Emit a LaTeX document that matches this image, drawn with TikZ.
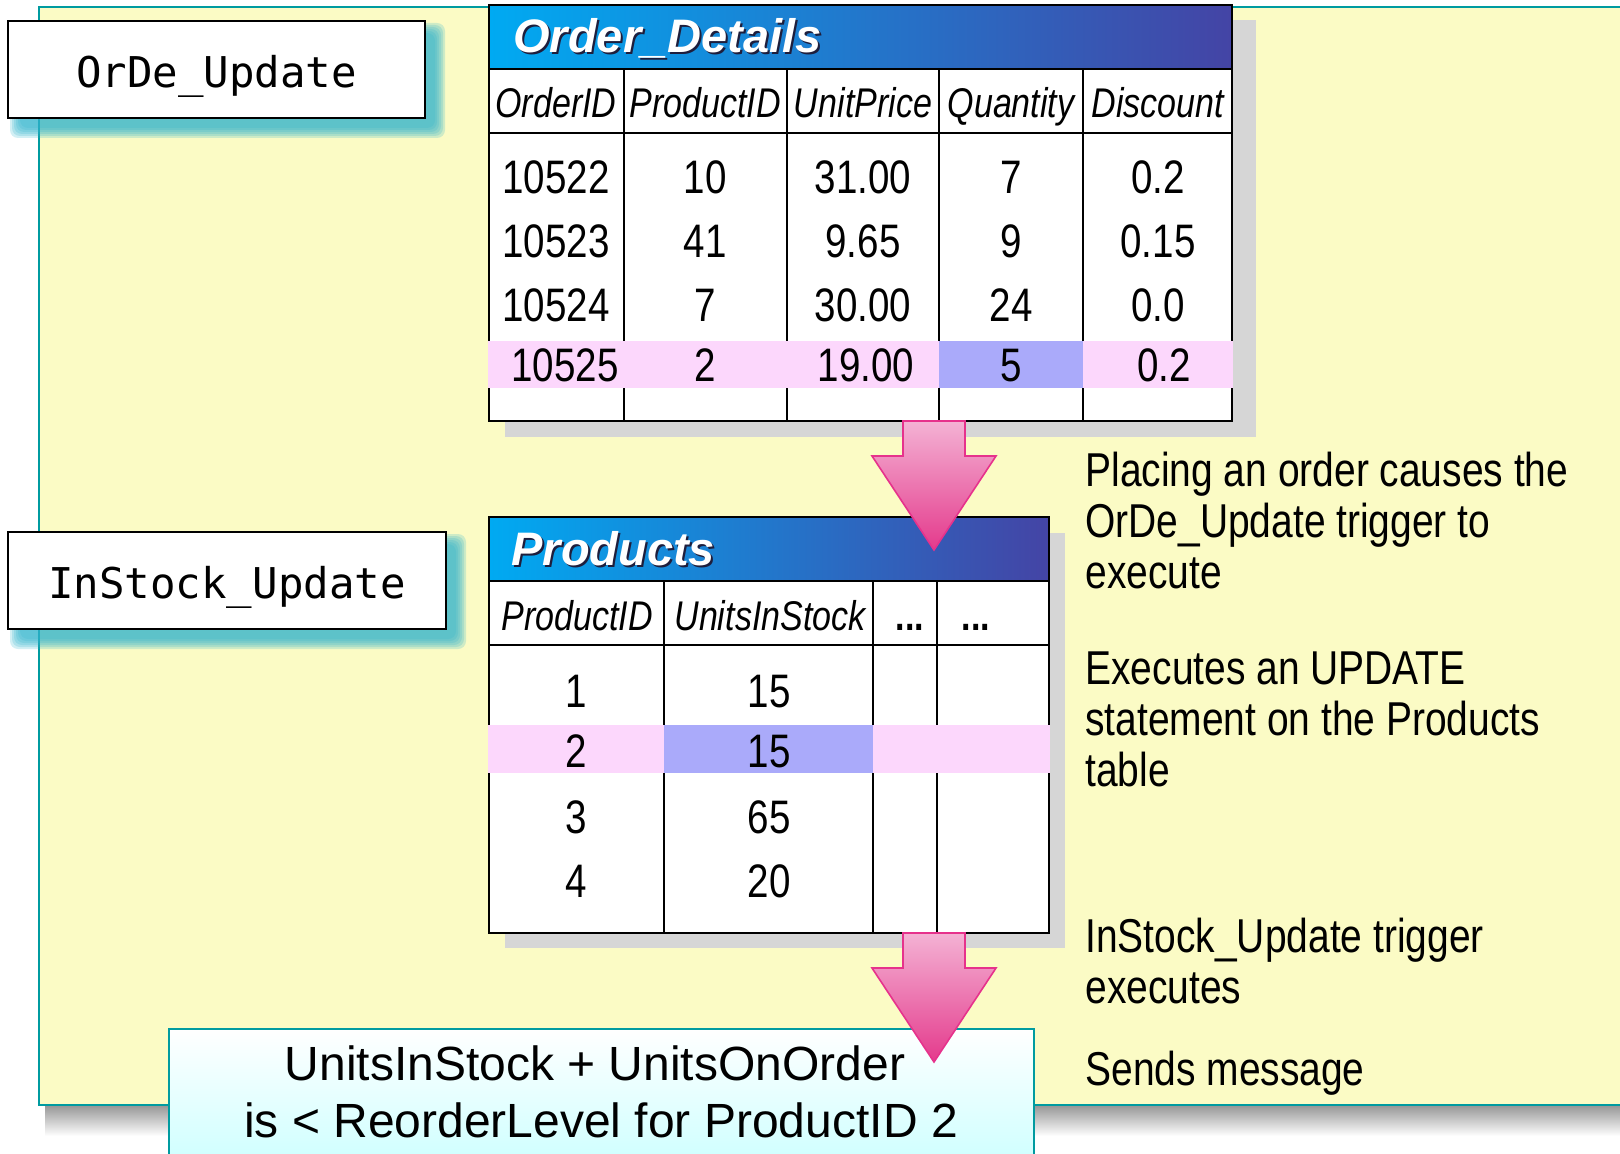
\documentclass[tikz,border=0pt]{standalone}
\usepackage{fontspec}
\setmainfont{Liberation Sans}
\setmonofont{DejaVu Sans Mono}
\newfontfamily\narrowfont[FakeStretch=0.82]{Liberation Sans}
\usetikzlibrary{calc}
\definecolor{bgyellow}{RGB}{251,251,197}
\definecolor{panelline}{RGB}{0,155,160}
\definecolor{glowteal}{RGB}{50,180,205}
\definecolor{tblshadow}{RGB}{214,214,214}
\definecolor{titleL}{RGB}{0,170,242}
\definecolor{titleR}{RGB}{68,68,165}
\definecolor{titleshade}{RGB}{30,30,60}
\definecolor{pinkrow}{RGB}{252,215,252}
\definecolor{bluecell}{RGB}{170,170,250}
\definecolor{arrowtop}{RGB}{244,178,212}
\definecolor{arrowbot}{RGB}{228,58,140}
\definecolor{arrowline}{RGB}{230,50,140}
\definecolor{msgcyan}{RGB}{200,255,255}

\begin{document}
\begin{tikzpicture}[x=0.5pt,y=-0.5pt,
  tline/.style={line width=1pt},
  cell/.style={font=\narrowfont\fontsize{23.5}{26}\selectfont, anchor=base, inner sep=0pt},
  head/.style={font=\narrowfont\itshape\fontsize{20.75}{24}\selectfont, anchor=base, inner sep=0pt},
  note/.style={font=\narrowfont\fontsize{23.75}{26}\selectfont, anchor=base west, inner sep=0pt},
  tname/.style={font=\bfseries\itshape\fontsize{23.5}{26}\selectfont, anchor=base west, inner sep=0pt},
  msgline/.style={font=\fontsize{24}{26}\selectfont, anchor=base, inner sep=0pt},
  trigbox/.style={draw, tline, fill=white, font=\ttfamily\fontsize{21.2}{24}\selectfont, text height=18pt, text depth=0pt, inner sep=0pt, minimum height=48.5pt},
  blockarrow/.style={top color=arrowtop, bottom color=arrowbot, draw=arrowline, line width=0.8pt, line join=miter}]
\useasboundingbox (0,0) rectangle (1620,1154);

% panel and its shadow
\shade[top color=black!40, bottom color=white] (45,1106) rectangle (1640,1136);
\draw[panelline, line width=1pt, fill=bgyellow] (39,7) rectangle (1650,1105);

% trigger boxes with glow
\foreach \r in {10,8,6,4,2,0} { \fill[glowteal, opacity=0.22, rounded corners=4pt] (20-\r,33-\r) rectangle (435+\r,128+\r); \fill[glowteal, opacity=0.22, rounded corners=4pt] (20-\r,544-\r) rectangle (456+\r,639+\r); };
\node[trigbox, minimum width=208.5pt] (orde) at (216.5,69.5) {OrDe\_Update};
\node[trigbox, minimum width=219pt] (instock) at (227,580.5) {InStock\_Update};

% Order_Details table
\fill[tblshadow] (505,20) rectangle (1256,437);
\draw[tline, fill=white] (489,69) rectangle (1232,421);
\shade[left color=titleL, right color=titleR] (489,5) rectangle (1232,69);
\draw[tline] (489,5) rectangle (1232,421); \draw[tline] (489,69) -- (1232,69); \draw[tline] (489,133) -- (1232,133);
\foreach \x in {624,787,939,1083} { \draw[tline] (\x,69) -- (\x,421); };
\fill[pinkrow] (488,341) rectangle (1233,388); \fill[bluecell] (939,341) rectangle (1083,388);
\node[tname, text=titleshade] (odtitle-s) at (515,55) {Order\_Details};
\node[tname, text=white] (odtitle) at (513,53) {Order\_Details};
\foreach \x/\t in {556/OrderID, 705/ProductID, 863/UnitPrice, 1011/Quantity, 1158/Discount} { \node[head] (odh-\t) at (\x,118) {\t}; };
\foreach \r/\yy/\s/\a/\b/\c/\d/\e in {1/194/0/10522/10/31.00/7/0.2, 2/258/0/10523/41/9.65/9/0.15, 3/322/0/10524/7/30.00/24/0.0, 4/382/1/10525/2/19.00/5/0.2} {
  \node[cell] (od\r a) at (556+9*\s,\yy) {\a}; \node[cell] (od\r b) at (705,\yy) {\b}; \node[cell] (od\r c) at (863+3*\s,\yy) {\c};
  \node[cell] (od\r d) at (1011,\yy) {\d}; \node[cell] (od\r e) at (1158+6*\s,\yy) {\e}; };
\coordinate (odfoot) at (934,421);

% Products table
\fill[tblshadow] (505,533) rectangle (1065,948);
\draw[tline, fill=white] (489,581) rectangle (1049,933);
\shade[left color=titleL, right color=titleR] (489,517) rectangle (1049,581);
\draw[tline] (489,517) rectangle (1049,933); \draw[tline] (489,581) -- (1049,581); \draw[tline] (489,645) -- (1049,645);
\foreach \x in {664,873,937} { \draw[tline] (\x,581) -- (\x,933); };
\fill[pinkrow] (488,725) rectangle (1050,773); \fill[bluecell] (664,725) rectangle (873,773);
\node[tname, text=titleshade] (prtitle-s) at (513,567) {Products};
\node[tname, text=white] (prtitle) at (511,565) {Products};
\node[head] (prh-id) at (577,630) {ProductID}; \node[head] (prh-stock) at (770,630) {UnitsInStock};
\node[head, font=\narrowfont\bfseries\fontsize{20.75}{24}\selectfont] (prh-more1) at (910,630) {...};
\node[head, font=\narrowfont\bfseries\fontsize{20.75}{24}\selectfont] (prh-more2) at (976,630) {...};
\foreach \r/\yy/\a/\b in {1/707/1/15, 2/767/2/15, 3/833/3/65, 4/897/4/20} { \node[cell] (pr\r a) at (576,\yy) {\a}; \node[cell] (pr\r b) at (769,\yy) {\b}; };
\coordinate (prfoot) at (934,933);

% notes on the right
\foreach \yy/\txt [count=\i] in {487/Placing an order causes the, 537/OrDe\_Update trigger to, 588/execute, 684/Executes an UPDATE, 735/statement on the Products, 786/table, 952/InStock\_Update trigger, 1003/executes, 1085/Sends message} { \node[note] (note\i) at (1085,\yy) {\txt}; };

% message box
\shade[top color=white, bottom color=msgcyan] (169,1029) rectangle (1034,1180);
\draw[panelline, line width=1pt] (169,1180) -- (169,1029) -- (1034,1029) -- (1034,1180);
\node[msgline] (msg1) at (595,1080) {UnitsInStock + UnitsOnOrder};
\node[msgline] (msg2) at (601,1137) {is < ReorderLevel for ProductID 2};

% block arrows
\draw[blockarrow] (odfoot) ++(-31,0) -- ++(0,35) -- ++(-31,0) -- ++(62,94) -- ++(62,-94) -- ++(-31,0) -- ++(0,-35) -- cycle;
\draw[blockarrow] (prfoot) ++(-31,0) -- ++(0,35) -- ++(-31,0) -- ++(62,94) -- ++(62,-94) -- ++(-31,0) -- ++(0,-35) -- cycle;
\end{tikzpicture}
\end{document}
